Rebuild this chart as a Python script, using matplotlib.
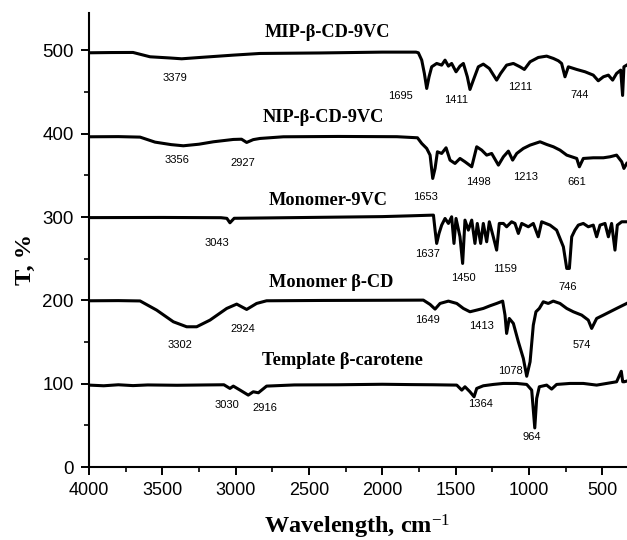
import matplotlib
matplotlib.use("Agg")
import matplotlib.pyplot as plt
from matplotlib.ticker import MultipleLocator

plt.rcParams["mathtext.fontset"] = "custom"
plt.rcParams["mathtext.rm"] = "Liberation Serif"
plt.rcParams["mathtext.default"] = "rm"

# ---- FTIR spectra (wavenumber, cm-1  /  transmittance, % with offsets) ----
mip_wn = [4000, 3850, 3700, 3584, 3450, 3368, 3243, 3016, 2834, 2425, 2000, 1770,
          1754, 1731, 1713, 1697, 1681, 1663, 1629, 1595, 1572, 1549, 1527, 1497,
          1470, 1447, 1420, 1402, 1379, 1345, 1311, 1270, 1220, 1193, 1152, 1106,
          1061, 1031, 992, 936, 879, 833, 799, 777, 754, 731, 674, 617, 561, 527,
          492, 458, 429, 402, 374, 361, 352, 333]
mip_t = [497.2, 497.5, 497.6, 492.4, 491.0, 490.0, 491.6, 494.4, 496.4, 497.0, 498.0, 498.0,
         497.2, 488.4, 472.4, 454.4, 468.4, 480.4, 484.4, 482.4, 488.4, 481.2, 484.4, 474.4,
         481.2, 484.4, 468.4, 453.2, 464.4, 480.4, 483.6, 478.4, 464.4, 472.4, 482.4, 484.4,
         480.4, 477.2, 486.4, 491.6, 493.2, 490.4, 487.6, 484.4, 468.4, 480.4, 477.2, 474.4,
         470.4, 463.6, 468.4, 470.4, 464.4, 472.4, 476.4, 446.0, 480.4, 482.4]

nip_wn = [4000, 3800, 3652, 3550, 3440, 3357, 3250, 3152, 3016, 2960, 2925, 2880,
          2834, 2675, 2300, 1900, 1760, 1731, 1697, 1674, 1656, 1640, 1624, 1595,
          1565, 1538, 1504, 1470, 1436, 1390, 1356, 1322, 1288, 1254, 1208, 1174,
          1140, 1111, 1083, 1038, 992, 924, 879, 833, 788, 742, 674, 656, 629, 561,
          492, 447, 402, 367, 352, 333]
nip_t = [396.4, 396.6, 396.0, 390.0, 387.0, 385.6, 387.5, 390.4, 393.2, 393.5, 389.6, 393.0,
         394.4, 396.4, 396.8, 396.5, 395.2, 388.4, 382.4, 374.4, 346.4, 358.4, 378.4, 376.4,
         383.2, 368.4, 364.4, 370.4, 366.4, 360.4, 384.4, 380.4, 374.4, 376.4, 362.4, 372.4,
         379.2, 368.4, 376.4, 382.4, 386.4, 390.4, 387.2, 384.4, 380.4, 374.4, 370.4, 360.4,
         370.4, 371.2, 371.2, 372.4, 374.4, 366.4, 358.4, 364.4]

vc_wn = [4000, 3500, 3100, 3060, 3039, 3010, 2800, 2400, 2000, 1800, 1651, 1640,
         1629, 1613, 1595, 1572, 1549, 1527, 1511, 1497, 1470, 1452, 1436, 1413,
         1390, 1368, 1352, 1329, 1311, 1288, 1270, 1243, 1220, 1202, 1174, 1152,
         1118, 1095, 1072, 1049, 1004, 970, 936, 913, 856, 811, 765, 742, 724, 708,
         686, 663, 629, 595, 561, 538, 515, 481, 458, 436, 413, 397, 367, 333]
vc_t = [299.4, 299.6, 299.3, 298.5, 293.2, 298.6, 299.0, 299.8, 300.6, 301.6, 302.4, 284.4,
        268.4, 280.4, 290.4, 298.4, 292.4, 300.4, 268.4, 298.4, 276.4, 244.4, 296.4, 284.4,
        296.4, 268.4, 292.4, 268.4, 292.4, 270.4, 294.4, 276.4, 260.4, 292.4, 292.4, 288.4,
        294.4, 292.4, 280.4, 292.4, 288.4, 292.4, 276.4, 294.4, 290.4, 284.4, 264.4, 238.4,
        238.4, 276.4, 284.4, 290.4, 292.4, 288.4, 290.4, 276.4, 290.4, 292.4, 276.4, 292.4,
        260.4, 290.4, 294.4, 294.4]

cd_wn = [4000, 3800, 3652, 3539, 3425, 3334, 3266, 3175, 3061, 2993, 2925, 2857,
         2789, 2400, 2000, 1720, 1674, 1640, 1606, 1549, 1492, 1447, 1402, 1356,
         1311, 1265, 1220, 1179, 1163, 1152, 1134, 1106, 1072, 1038, 1015, 992,
         970, 952, 929, 902, 868, 834, 788, 742, 697, 640, 595, 572, 538, 492, 447,
         402, 356, 333]
cd_t = [199.6, 199.8, 199.4, 188.4, 174.4, 168.4, 168.4, 176.4, 190.4, 195.6, 189.2, 196.4,
        199.6, 200.0, 200.2, 200.4, 195.2, 189.6, 196.4, 199.2, 196.4, 190.4, 186.4, 188.4,
        190.4, 193.6, 196.4, 199.2, 182.4, 160.4, 178.4, 172.4, 150.4, 130.4, 109.0, 126.4,
        170.4, 186.4, 190.4, 198.4, 196.4, 199.2, 196.4, 190.4, 186.4, 182.4, 176.4, 166.4,
        178.4, 182.4, 186.4, 190.4, 194.4, 196.4]

car_wn = [4000, 3900, 3800, 3700, 3600, 3400, 3200, 3080, 3039, 3016, 2970, 2914,
          2880, 2845, 2789, 2600, 2300, 2000, 1800, 1650, 1492, 1458, 1436, 1402,
          1374, 1356, 1311, 1243, 1174, 1083, 1015, 981, 960, 947, 929, 879, 845,
          811, 720, 629, 538, 470, 402, 370, 360, 350, 333]
car_t = [98.4, 97.6, 98.8, 97.8, 98.6, 98.2, 98.6, 98.8, 94.4, 97.2, 92.4, 86.4,
         90.4, 89.2, 97.2, 98.6, 98.8, 99.4, 99.0, 98.8, 98.4, 92.4, 96.4, 90.4,
         84.4, 94.4, 97.6, 99.2, 100.4, 100.4, 99.2, 92.4, 47.0, 82.4, 96.4, 98.4, 93.6,
         99.2, 100.4, 100.4, 98.4, 100.4, 102.4, 115.0, 102.4, 102.4, 103.2]

spectra = [(mip_wn, mip_t), (nip_wn, nip_t), (vc_wn, vc_t), (cd_wn, cd_t), (car_wn, car_t)]

# ---- Spectrum names ----
names = ["MIP-β-CD-9VC", "NIP-β-CD-9VC", "Monomer-9VC", "Monomer β-CD", "Template β-carotene"]
name_x = [2377, 2404, 2370, 2350, 2274]
name_y = [522, 420, 320, 222, 128]

# ---- Band annotations ----
band_text = ["3379", "1695", "1411", "1211", "744",
             "3356", "2927", "1653", "1498", "1213", "661",
             "3043", "1637", "1450", "1159", "746",
             "3302", "2924", "1649", "1413", "574", "1078",
             "3030", "2916", "1364", "964"]
band_x = [3413, 1879, 1497, 1061, 651,
          3400, 2950, 1708, 1347, 1026, 672,
          3127, 1688, 1449, 1163, 733,
          3379, 2950, 1695, 1320, 638, 1129,
          3059, 2800, 1333, 979]
band_y = [467, 445, 440, 456, 446,
          368, 365, 324, 342, 348, 342,
          269, 256, 227, 238, 216,
          146, 166, 176, 169, 146, 115,
          74, 71, 76, 36]

fig = plt.figure(figsize=(6.27, 5.40), dpi=100)
ax = fig.add_axes([0.142, 0.135, 0.858, 0.841])

for wn, t in spectra:
    ax.plot(wn, t, color="black", lw=2.2, solid_joinstyle="round")

for s, x, y in zip(names, name_x, name_y):
    ax.text(x, y, s, ha="center", va="center", fontsize=13.2, fontweight="bold",
            family="Liberation Serif")

for s, x, y in zip(band_text, band_x, band_y):
    ax.text(x, y, s, ha="center", va="center", fontsize=8, family="Liberation Sans")

ax.set_xlim(4000, 331)
ax.set_ylim(0, 545)
ax.xaxis.set_major_locator(MultipleLocator(500))
ax.xaxis.set_minor_locator(MultipleLocator(250))
ax.yaxis.set_major_locator(MultipleLocator(100))
ax.yaxis.set_minor_locator(MultipleLocator(50))
ax.set_yticks([0, 100, 200, 300, 400, 500])

for side in ("top", "right"):
    ax.spines[side].set_visible(False)
for side in ("left", "bottom"):
    ax.spines[side].set_linewidth(1.5)

ax.tick_params(which="major", direction="out", length=6, width=1.4, pad=5)
ax.tick_params(which="minor", direction="out", length=3.5, width=1.2)
ax.tick_params(axis="x", which="major", labelsize=13)
ax.tick_params(axis="y", which="major", labelsize=13.5)
for lab in ax.get_xticklabels() + ax.get_yticklabels():
    lab.set_family("Liberation Sans")

fig.text(0.569, 0.012, r"Wavelength, cm$^{-1}$", ha="center", va="baseline",
         fontsize=17.5, fontweight="bold", family="Liberation Serif")
fig.text(0.040, 0.52, "T, %", ha="center", va="center", rotation=90,
         fontsize=17.5, fontweight="bold", family="Liberation Serif")

fig.savefig("out.png", dpi=100)
